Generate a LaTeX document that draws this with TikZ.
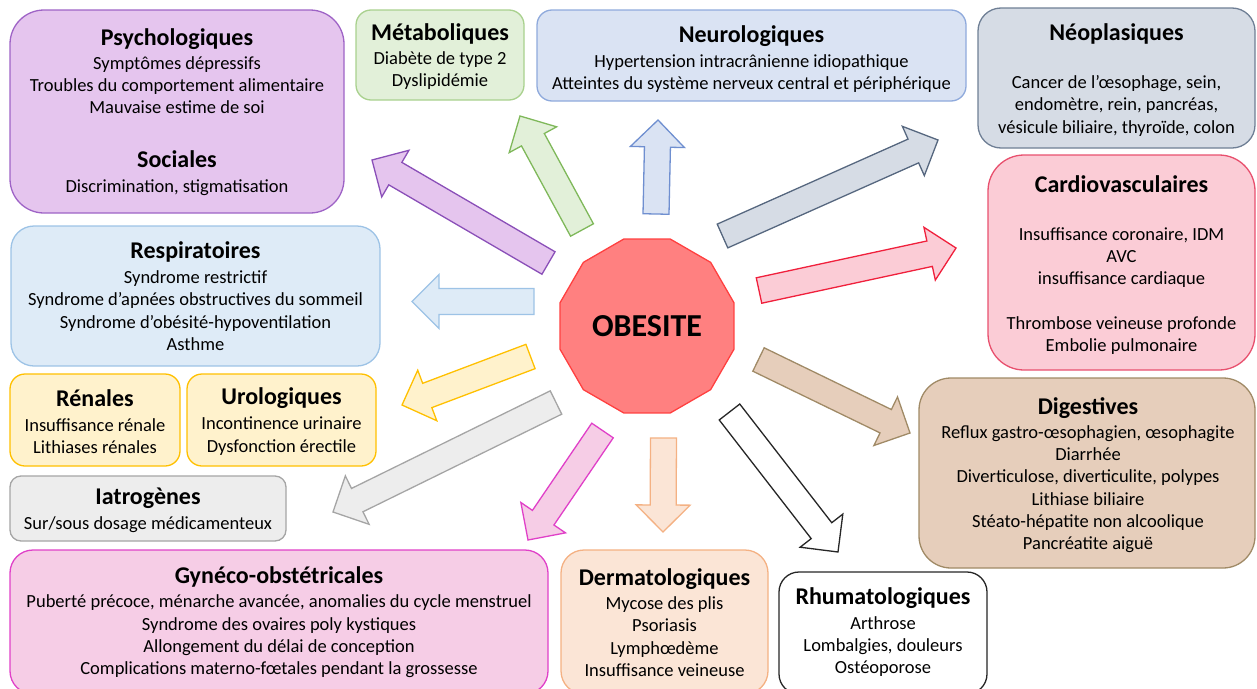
\documentclass[tikz,border=0pt]{standalone}
\usepackage{fontspec}
\setmainfont{Carlito}
\usetikzlibrary{calc,shapes.geometric}
\definecolor{psyF}{HTML}{E5C5EE}\definecolor{psyD}{HTML}{9E63C6}\definecolor{psyA}{HTML}{8A4FB8}
\definecolor{metF}{HTML}{E2F0D9}\definecolor{metD}{HTML}{A9D18E}\definecolor{metA}{HTML}{7FB85A}
\definecolor{neuF}{HTML}{DAE3F3}\definecolor{neuD}{HTML}{8FAADC}\definecolor{neuA}{HTML}{6F8FD0}
\definecolor{neoF}{HTML}{D6DCE5}\definecolor{neoD}{HTML}{6F7F95}\definecolor{neoA}{HTML}{56677F}
\definecolor{carF}{HTML}{FBCCD6}\definecolor{carD}{HTML}{E8506E}\definecolor{carA}{HTML}{F0203C}
\definecolor{resF}{HTML}{DEEBF7}\definecolor{resD}{HTML}{9DC3E6}
\definecolor{renF}{HTML}{FFF2CC}\definecolor{renD}{HTML}{FFC000}
\definecolor{iatF}{HTML}{EDEDED}\definecolor{iatD}{HTML}{A5A5A5}
\definecolor{gynF}{HTML}{F6CDE6}\definecolor{gynD}{HTML}{E040C8}
\definecolor{derF}{HTML}{FBE5D6}\definecolor{derD}{HTML}{F4B183}
\definecolor{digF}{HTML}{E6CEBB}\definecolor{digD}{HTML}{A08A66}
\definecolor{obeF}{HTML}{FF8080}\definecolor{obeD}{HTML}{FF4040}
\newcommand\ttl[1]{{\fontsize{24}{22.3}\selectfont\bfseries #1}}
\newcommand\bodyfnt{\fontsize{18.5}{22.3}\selectfont\lineskiplimit=-100pt\relax\lineskip=0pt\relax}
\newcommand\barrow[3]{%
  \coordinate (#1-n) at ($(#2)!27pt!(#1)$);
  \draw[arrowline,#3] ($(#1)!13pt!90:(#2)$) -- ($(#1-n)!13pt!90:(#2)$) -- ($(#1-n)!27pt!90:(#2)$) -- (#2)
     -- ($(#1-n)!27pt!-90:(#2)$) -- ($(#1-n)!13pt!-90:(#2)$) -- ($(#1)!13pt!-90:(#2)$) -- cycle;}
\tikzset{
  box/.style={rectangle, inner sep=0pt, outer sep=0pt, line width=1.3pt},
  txt/.style={align=center, inner sep=0pt, font=\bodyfnt},
  arrowline/.style={line width=1.3pt, line join=miter},
}
\begin{document}
\begin{tikzpicture}[x=1pt,y=-1pt]
\useasboundingbox (0,0) rectangle (1257,688);
% boxes
\node[box, draw=psyD, fill=psyF, rounded corners=34pt, minimum width=334pt, minimum height=203pt] (psy) at (177,111.5) {};
\node[box, draw=metD, fill=metF, rounded corners=15pt, minimum width=168pt, minimum height=90pt] (met) at (440,55) {};
\node[box, draw=neuD, fill=neuF, rounded corners=15pt, minimum width=429pt, minimum height=91pt] (neu) at (751.5,55.5) {};
\node[box, draw=neoD, fill=neoF, rounded corners=23pt, minimum width=277pt, minimum height=140pt] (neo) at (1116.5,78) {};
\node[box, draw=carD, fill=carF, rounded corners=36pt, minimum width=267pt, minimum height=215pt] (car) at (1121.5,262.5) {};
\node[box, draw=resD, fill=resF, rounded corners=23pt, minimum width=369pt, minimum height=140pt] (res) at (195.5,296) {};
\node[box, draw=renD, fill=renF, rounded corners=15pt, minimum width=170pt, minimum height=92pt] (ren) at (95,420) {};
\node[box, draw=renD, fill=renF, rounded corners=15pt, minimum width=189pt, minimum height=92pt] (uro) at (281.5,420) {};
\node[box, draw=iatD, fill=iatF, rounded corners=11pt, minimum width=276pt, minimum height=65pt] (iat) at (148,508.5) {};
\node[box, draw=gynD, fill=gynF, rounded corners=23pt, minimum width=538pt, minimum height=144pt] (gyn) at (279,622) {};
\node[box, draw=derD, fill=derF, rounded corners=23pt, minimum width=207pt, minimum height=144pt] (der) at (664.5,622) {};
\node[box, draw=black!85, fill=white, rounded corners=20pt, minimum width=208pt, minimum height=122pt] (rhu) at (883,633) {};
\node[box, draw=digD, fill=digF, rounded corners=32pt, minimum width=336pt, minimum height=190pt] (dig) at (1087,473) {};
% texts
\node[txt] (psy-t) at (177,112.5) {\ttl{Psychologiques}\\[1pt]Symptômes dépressifs\\Troubles du comportement alimentaire\\Mauvaise estime de soi\\[32pt]\ttl{Sociales}\\[2.7pt]Discrimination, stigmatisation};
\node[txt] (met-t) at (440,56.5) {\ttl{Métaboliques}\\[1.7pt]Diabète de type 2\\Dyslipidémie};
\node[txt] (neu-t) at (751.5,59) {\ttl{Neurologiques}\\[2.7pt]Hypertension intracrânienne idiopathique\\Atteintes du système nerveux central et périphérique};
\node[txt] (neo-t) at (1116.5,80) {\ttl{Néoplasiques}\\[25.7pt]Cancer de l’œsophage, sein,\\endomètre, rein, pancréas,\\vésicule biliaire, thyroïde, colon};
\node[txt] (car-t) at (1121.5,265) {\ttl{Cardiovasculaires}\\[25.7pt]Insuffisance coronaire, IDM\\AVC\\insuffisance cardiaque\\[22pt]Thrombose veineuse profonde\\Embolie pulmonaire};
\node[txt] (res-t) at (195.5,296) {\ttl{Respiratoires}\\[2.7pt]Syndrome restrictif\\Syndrome d’apnées obstructives du sommeil\\Syndrome d’obésité-hypoventilation\\Asthme};
\node[txt] (ren-t) at (95,421.5) {\ttl{Rénales}\\[2.7pt]Insuffisance rénale\\Lithiases rénales};
\node[txt] (uro-t) at (281.5,421.5) {\ttl{Urologiques}\\[2.7pt]Incontinence urinaire\\Dysfonction érectile};
\node[txt] (iat-t) at (148,510) {\ttl{Iatrogènes}\\[2.7pt]Sur/sous dosage médicamenteux};
\node[txt] (gyn-t) at (279,622.5) {\ttl{Gynéco-obstétricales}\\[1.7pt]Puberté précoce, ménarche avancée, anomalies du cycle menstruel\\Syndrome des ovaires poly kystiques\\Allongement du délai de conception\\Complications materno-fœtales pendant la grossesse};
\node[txt] (der-t) at (664.5,622.5) {\ttl{Dermatologiques}\\[1.7pt]Mycose des plis\\Psoriasis\\Lymphœdème\\Insuffisance veineuse};
\node[txt] (rhu-t) at (883,632) {\ttl{Rhumatologiques}\\[2.7pt]Arthrose\\Lombalgies, douleurs\\Ostéoporose};
\node[txt] (dig-t) at (1088,475) {\ttl{Digestives}\\[1.7pt]Reflux gastro-œsophagien, œsophagite\\Diarrhée\\Diverticulose, diverticulite, polypes\\Lithiase biliaire\\Stéato-hépatite non alcoolique\\Pancréatite aiguë};
% centre
\node[regular polygon, regular polygon sides=12, minimum size=180pt, inner sep=0pt, draw=obeD, fill=obeF, line width=1.3pt, font=\fontsize{32}{34}\selectfont\bfseries] (obe) at (647,326) {OBESITE};
% arrows
\coordinate (a1) at (548.5,263);  \coordinate (b1) at (372,160);
\coordinate (a2) at (582,230);    \coordinate (b2) at (520,116);
\coordinate (a3) at (656,214);    \coordinate (b3) at (658,120);
\coordinate (a4) at (722.5,236);  \coordinate (b4) at (938,140);
\coordinate (a5) at (759,290.5);  \coordinate (b5) at (956,248);
\coordinate (a6) at (534,301.5);  \coordinate (b6) at (412,301.5);
\coordinate (a7) at (530.5,356.5);\coordinate (b7) at (402,405);
\coordinate (a8) at (556,402.5);  \coordinate (b8) at (333,512);
\coordinate (a9) at (602.5,430.5);\coordinate (b9) at (528,540);
\coordinate (a10) at (663.5,438); \coordinate (b10) at (663,532);
\coordinate (a11) at (729.5,412); \coordinate (b11) at (838,552);
\coordinate (a12) at (758.5,359.5);\coordinate (b12) at (910,433);
\barrow{a1}{b1}{draw=psyA, fill=psyF}
\barrow{a2}{b2}{draw=metA, fill=metF}
\barrow{a3}{b3}{draw=neuA, fill=neuF}
\barrow{a4}{b4}{draw=neoA, fill=neoF}
\barrow{a5}{b5}{draw=carA, fill=carF}
\barrow{a6}{b6}{draw=resD, fill=resF}
\barrow{a7}{b7}{draw=renD, fill=renF}
\barrow{a8}{b8}{draw=iatD, fill=iatF}
\barrow{a9}{b9}{draw=gynD, fill=gynF}
\barrow{a10}{b10}{draw=derD, fill=derF}
\barrow{a11}{b11}{draw=black!85, fill=white}
\barrow{a12}{b12}{draw=digD, fill=digF}
\end{tikzpicture}
\end{document}
